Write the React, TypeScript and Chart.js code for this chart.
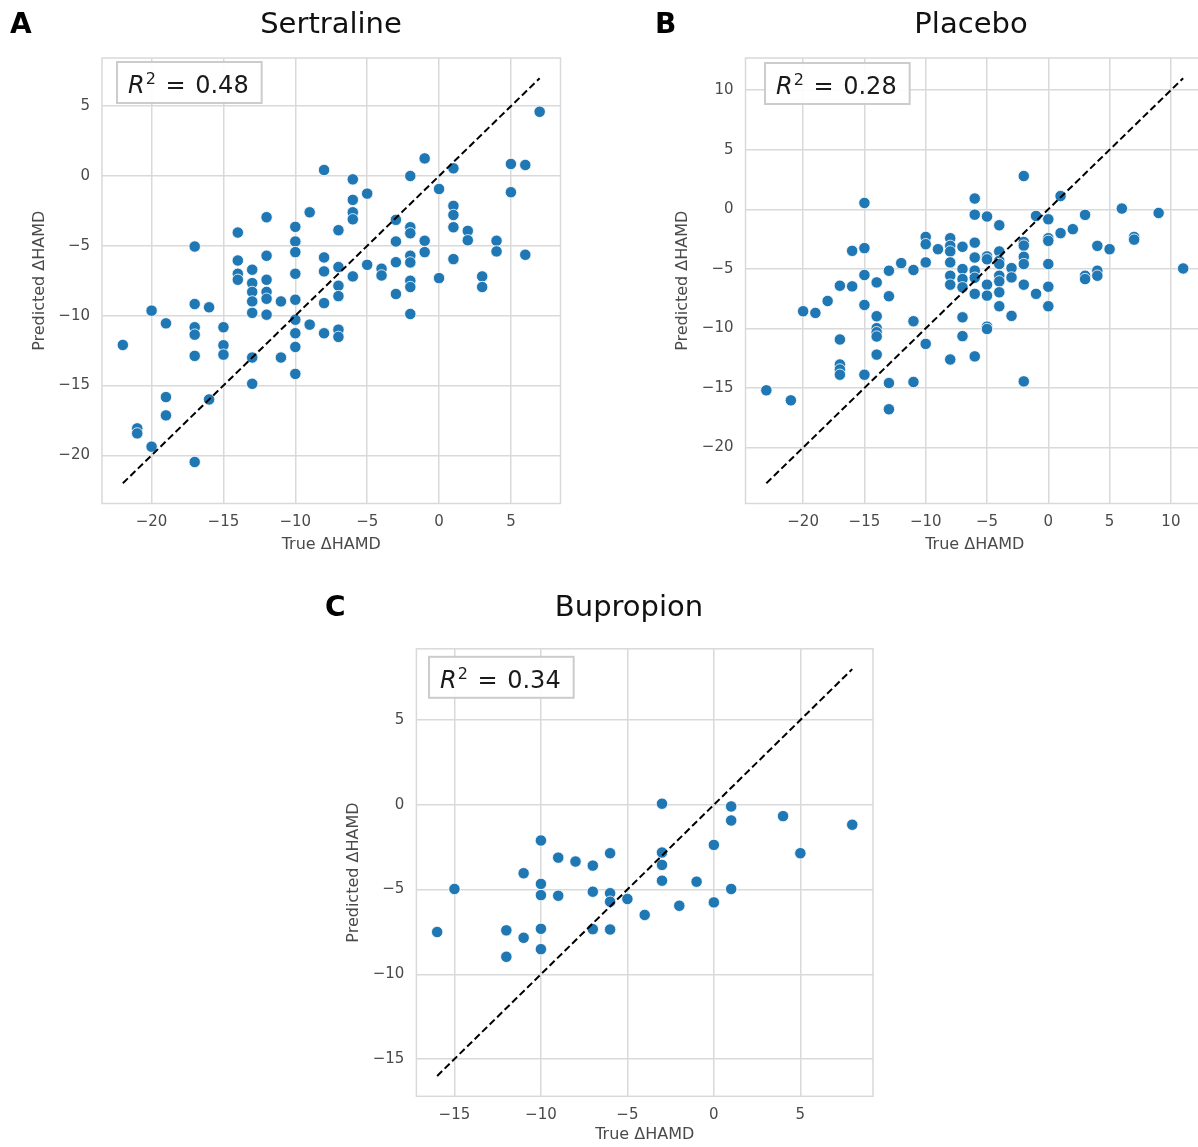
import React, { useEffect, useRef } from 'react';
import { Chart, registerables } from 'chart.js';

Chart.register(...registerables);

// ---------- Data ----------
const sertralineTrue = [
  -22, -21, -21, -20, -20, -19, -19, -19, -17, -17, -17, -17, -17, -17, -16, -16,
  -15, -15, -15, -14, -14, -14, -14, -13, -13, -13, -13, -13, -13, -13,
  -12, -12, -12, -12, -12, -12, -11, -11, -10, -10, -10, -10, -10, -10, -10, -10, -10,
  -9, -9, -8, -8, -8, -8, -8, -7, -7, -7, -7, -7, -7, -6, -6, -6, -6, -6,
  -5, -5, -4, -4, -3, -3, -3, -3, -2, -2, -2, -2, -2, -2, -2, -2,
  -1, -1, -1, 0, 0, 1, 1, 1, 1, 1, 2, 2, 3, 3, 4, 4, 5, 5, 6, 6, 7,
];
const sertralinePred = [
  -12.1, -18.07, -18.43, -9.64, -19.38, -10.55, -15.83, -17.14, -5.05, -9.17, -10.83, -11.36, -12.88, -20.48, -9.4, -16.0,
  -10.83, -12.12, -12.79, -4.05, -6.05, -7.0, -7.43, -6.71, -7.67, -8.3, -8.98, -9.8, -13.0, -14.88,
  -2.95, -5.71, -7.43, -8.3, -8.79, -9.93, -8.98, -13.0, -3.64, -4.69, -5.45, -7.0, -8.86, -10.29, -11.26, -12.24, -14.17,
  -2.6, -10.64, 0.43, -5.83, -6.83, -9.1, -11.26, -3.88, -6.52, -7.86, -8.6, -11.0, -11.52, -0.24, -1.71, -2.6, -3.1, -7.19,
  -1.26, -6.36, -6.64, -7.12, -3.14, -4.69, -6.17, -8.45, 0.0, -3.67, -4.1, -5.71, -6.19, -7.5, -7.95, -9.88,
  1.26, -4.64, -5.45, -0.93, -7.31, 0.55, -2.14, -2.79, -3.67, -5.95, -3.93, -4.6, -7.19, -7.95, -4.64, -5.4, 0.86, -1.16, 0.79, -5.64, 4.6,
];

const placeboTrue = [
  -23, -21, -20, -19, -18, -17, -17, -17, -17, -17, -16, -16, -15, -15, -15, -15, -15,
  -14, -14, -14, -14, -14, -14, -13, -13, -13, -13, -12, -11, -11, -11, -10, -10, -10, -10, -9,
  -8, -8, -8, -8, -8, -8, -8, -7, -7, -7, -7, -7, -7, -6, -6, -6, -6, -6, -6, -6, -6,
  -5, -5, -5, -5, -5, -5, -5, -4, -4, -4, -4, -4, -4, -4, -4, -3, -3, -3,
  -2, -2, -2, -2, -2, -2, -2, -1, -1, 0, 0, 0, 0, 0, 0, 1, 1, 2, 3, 3, 3, 4, 4, 4, 5, 6, 7, 7, 9, 11,
];
const placeboPred = [
  -15.2, -16.04, -8.56, -8.7, -7.7, -6.42, -10.93, -13.03, -13.45, -13.89, -3.49, -6.47, 0.53, -3.26, -5.52, -8.03, -13.89,
  -6.14, -8.98, -9.98, -10.32, -10.68, -12.2, -5.16, -7.3, -14.59, -16.79, -4.52, -5.1, -9.4, -14.5, -2.32, -2.93, -4.46, -11.3, -3.35,
  -2.43, -3.07, -3.54, -4.46, -5.58, -6.33, -12.61, -3.15, -5.02, -5.86, -6.55, -9.07, -10.65, 0.9, -0.45, -2.8, -4.05, -5.15, -5.75, -7.1, -12.35,
  -0.61, -3.95, -4.2, -6.33, -7.25, -9.85, -10.05, -1.34, -3.54, -4.32, -4.6, -5.58, -6.05, -6.97, -8.14, -4.94, -5.72, -8.95,
  2.79, -2.75, -3.05, -3.99, -4.6, -6.33, -14.45, -0.56, -7.1, -0.84, -2.43, -2.65, -4.6, -6.5, -8.14, 1.11, -2.0, -1.67, -0.47, -5.58, -5.86, -3.07, -5.16, -5.58, -3.35, 0.06, -2.32, -2.55, -0.31, -4.97,
];

const bupropionTrue = [
  -16, -15, -12, -12, -11, -11, -10, -10, -10, -10, -10, -9, -9, -8, -7, -7, -7,
  -6, -6, -6, -6, -5, -4, -3, -3, -3, -3, -2, -1, 0, 0, 1, 1, 1, 4, 5, 8,
];
const bupropionPred = [
  -7.51, -4.97, -7.41, -8.97, -4.04, -7.85, -2.11, -4.67, -5.33, -7.32, -8.52, -3.12, -5.37, -3.35, -3.59, -5.13, -7.34,
  -2.86, -5.22, -5.72, -7.36, -5.56, -6.5, 0.06, -2.82, -3.55, -4.48, -5.96, -4.54, -2.37, -5.76, -0.1, -0.93, -4.97, -0.67, -2.86, -1.18,
];

const sertralineTicks = [-20, -15, -10, -5, 0, 5];
const placeboTicks = [-20, -15, -10, -5, 0, 5, 10];
const bupropionTicks = [-15, -10, -5, 0, 5];

const panelTitles = ['Sertraline', 'Placebo', 'Bupropion'];
const panelLetters = ['A', 'B', 'C'];
const r2Labels = ['0.48', '0.28', '0.34'];
const xAxisLabel = 'True \u0394HAMD';
const yAxisLabel = 'Predicted \u0394HAMD';

// ---------- Styles ----------
const FONT = "'DejaVu Sans', sans-serif";
const POINT_COLOR = '#1f77b4';
const GRID_COLOR = '#d9d9d9';
const TEXT_COLOR = '#4a4a4a';

const fmt = (v: number) => (v < 0 ? '\u2212' + Math.abs(v) : String(v));

type Layout = {
  left: number; top: number; width: number; height: number;
  yAxisW: number; xAxisH: number; padRight: number; padTop: number;
  titleX: number; titleY: number; yTitlePad: number; xTitlePad: number;
  letterX: number; letterY: number; boxDX: number; boxDY: number;
};

const layouts: Layout[] = [
  { left: 0, top: 0, width: 575, height: 560, yAxisW: 102, xAxisH: 56.5, padRight: 14.5, padTop: 58,
    titleX: 331, titleY: 33, yTitlePad: 30.4, xTitlePad: 6, letterX: 10, letterY: 33, boxDX: 15, boxDY: 4 },
  { left: 600, top: 0, width: 620, height: 560, yAxisW: 145.5, xAxisH: 56.5, padRight: 16, padTop: 58,
    titleX: 371, titleY: 33, yTitlePad: 73.4, xTitlePad: 6, letterX: 55, letterY: 33, boxDX: 19.5, boxDY: 5 },
  { left: 300, top: 580, width: 590, height: 567, yAxisW: 116.4, xAxisH: 50.7, padRight: 17, padTop: 68.8,
    titleX: 329, titleY: 36, yTitlePad: 44.4, xTitlePad: 2.4, letterX: 25, letterY: 36, boxDX: 12.6, boxDY: 8 },
];

const panelData = [
  { trueVals: sertralineTrue, predVals: sertralinePred, ticks: sertralineTicks },
  { trueVals: placeboTrue, predVals: placeboPred, ticks: placeboTicks },
  { trueVals: bupropionTrue, predVals: bupropionPred, ticks: bupropionTicks },
];

function decorPlugin(letter: string, title: string, r2: string, L: Layout) {
  return {
    id: 'decor' + letter,
    afterDatasetsDraw(chart: any) {
      const { ctx, chartArea: a } = chart;
      ctx.save();
      ctx.strokeStyle = GRID_COLOR;
      ctx.lineWidth = 1.5;
      ctx.strokeRect(a.left, a.top, a.right - a.left, a.bottom - a.top);

      const big = `24px ${FONT}`;
      const ital = `italic 24px ${FONT}`;
      const sup = `16px ${FONT}`;
      ctx.font = ital;
      const wR = ctx.measureText('R').width;
      ctx.font = sup;
      const w2 = ctx.measureText('2').width;
      const eq = ' =';
      const val = ' ' + r2;
      ctx.font = big;
      const wEq = ctx.measureText(eq).width;
      const wVal = ctx.measureText(val).width;
      const gap = 2;
      const bx = a.left + L.boxDX;
      const by = a.top + L.boxDY;
      const bw = 11 + wR + 1 + w2 + gap + wEq + gap + wVal + 13;
      const bh = 41;
      ctx.fillStyle = 'rgba(255,255,255,0.9)';
      ctx.fillRect(bx, by, bw, bh);
      ctx.strokeStyle = '#cccccc';
      ctx.lineWidth = 2;
      ctx.strokeRect(bx, by, bw, bh);
      ctx.fillStyle = '#1a1a1a';
      ctx.textBaseline = 'alphabetic';
      ctx.textAlign = 'left';
      let x = bx + 11;
      const base = by + 31;
      ctx.font = ital;
      ctx.fillText('R', x, base);
      x += wR + 1;
      ctx.font = sup;
      ctx.fillText('2', x, base - 9);
      x += w2 + gap;
      ctx.font = big;
      ctx.fillText(eq, x, base);
      x += wEq + gap;
      ctx.fillText(val, x, base);
      ctx.restore();
    },
    afterDraw(chart: any) {
      const ctx = chart.ctx;
      ctx.save();
      ctx.textBaseline = 'alphabetic';
      ctx.font = `29px ${FONT}`;
      ctx.fillStyle = '#111';
      ctx.textAlign = 'center';
      ctx.fillText(title, L.titleX, L.titleY);
      ctx.font = `bold 28px ${FONT}`;
      ctx.fillStyle = '#000';
      ctx.textAlign = 'left';
      ctx.fillText(letter, L.letterX, L.letterY);
      ctx.restore();
    },
  };
}

function Panel({ idx }: { idx: number }) {
  const ref = useRef<HTMLCanvasElement>(null);
  const L = layouts[idx];
  useEffect(() => {
    const { trueVals, predVals, ticks } = panelData[idx];
    const all = trueVals.concat(predVals);
    const lo = Math.min(...all);
    const hi = Math.max(...all);
    const margin = 0.05 * (hi - lo);
    const axisMin = lo - margin;
    const axisMax = hi + margin;

    const axisCommon = (isX: boolean) => ({
      type: 'linear' as const,
      min: axisMin,
      max: axisMax,
      grid: { color: GRID_COLOR, lineWidth: 1.5, drawTicks: false },
      border: { display: false },
      ticks: {
        padding: isX ? 10 : 12,
        autoSkip: false,
        maxRotation: 0,
        color: TEXT_COLOR,
        font: { family: FONT, size: 15 },
        callback: (v: any) => fmt(Number(v)),
      },
      title: {
        display: true,
        text: isX ? xAxisLabel : yAxisLabel,
        color: TEXT_COLOR,
        font: { family: FONT, size: 16 },
        padding: isX ? { top: 0, bottom: L.xTitlePad } : { top: L.yTitlePad, bottom: 0 },
      },
      afterBuildTicks: (axis: any) => {
        axis.ticks = ticks.map((v) => ({ value: v }));
      },
      afterFit: (axis: any) => {
        if (isX) axis.height = L.xAxisH;
        else axis.width = L.yAxisW;
      },
    });

    const chart = new Chart(ref.current as HTMLCanvasElement, {
      type: 'scatter',
      data: {
        datasets: [
          {
            data: [{ x: lo, y: lo }, { x: hi, y: hi }],
            showLine: true,
            borderColor: '#000',
            borderWidth: 2,
            borderDash: [7, 3.5],
            pointRadius: 0,
            pointHoverRadius: 0,
            fill: false,
            order: 0,
          } as any,
          {
            data: trueVals.map((x, i) => ({ x, y: predVals[i] })),
            backgroundColor: POINT_COLOR,
            borderColor: '#ffffff',
            borderWidth: 0.8,
            pointRadius: 5.7,
            pointHoverRadius: 5.7,
            order: 1,
          },
        ],
      },
      options: {
        animation: false,
        responsive: false,
        devicePixelRatio: 1,
        events: [],
        layout: { padding: { left: 0, right: L.padRight, top: L.padTop, bottom: 0 } },
        plugins: {
          legend: { display: false },
          tooltip: { enabled: false },
          title: { display: false },
        },
        scales: { x: axisCommon(true), y: axisCommon(false) } as any,
      },
      plugins: [decorPlugin(panelLetters[idx], panelTitles[idx], r2Labels[idx], L)],
    });
    return () => chart.destroy();
  }, [idx]);
  return (
    <canvas
      ref={ref}
      width={L.width}
      height={L.height}
      style={{ position: 'absolute', left: L.left, top: L.top, width: L.width, height: L.height }}
    />
  );
}

export default function App() {
  return (
    <div
      style={{
        position: 'absolute', left: 0, top: 0, width: 1198, height: 1147,
        overflow: 'hidden', background: '#ffffff',
      }}
    >
      {[0, 1, 2].map((i) => (
        <Panel key={i} idx={i} />
      ))}
    </div>
  );
}
